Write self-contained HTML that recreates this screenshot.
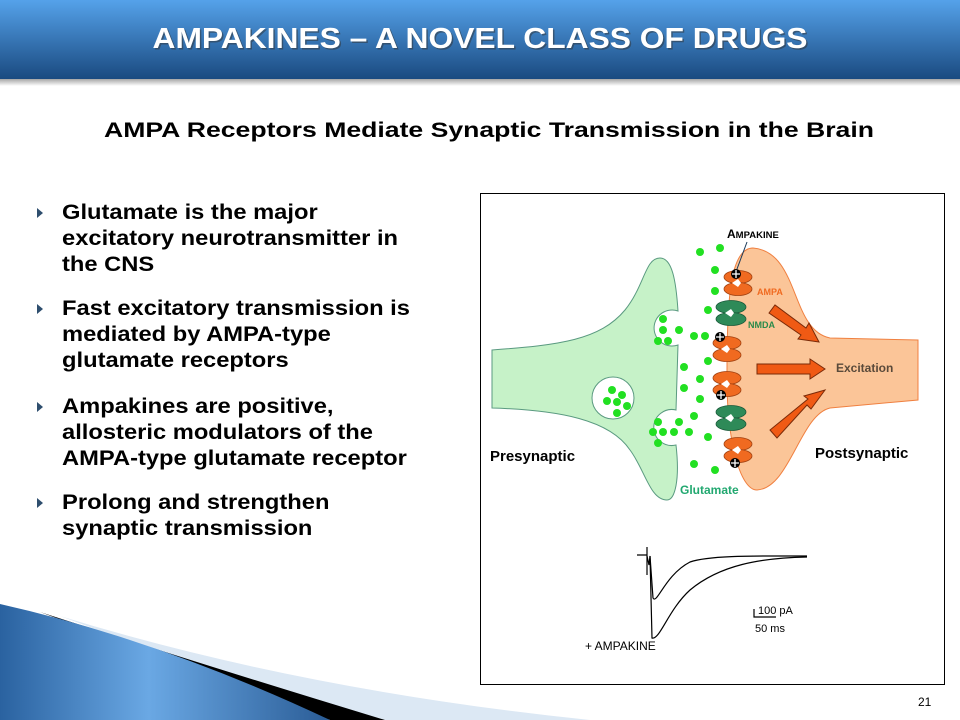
<!DOCTYPE html>
<html><head><meta charset="utf-8"><style>
html,body{margin:0;padding:0;background:#fff;}
body{width:960px;height:720px;overflow:hidden;position:relative;font-family:"Liberation Sans",Arial,sans-serif;}
</style></head><body>
<svg width="960" height="720" viewBox="0 0 960 720" xmlns="http://www.w3.org/2000/svg" style="position:absolute;left:0;top:0;font-family:'Liberation Sans',Arial,sans-serif">
<defs>
<linearGradient id="tb" x1="0" y1="0" x2="0" y2="1"><stop offset="0" stop-color="#55a2ea"/><stop offset="1" stop-color="#1a4a80"/></linearGradient>
<linearGradient id="sh" x1="0" y1="0" x2="0" y2="1"><stop offset="0" stop-color="#999"/><stop offset="1" stop-color="#fff"/></linearGradient>
<linearGradient id="sw" x1="0" y1="0" x2="1" y2="0"><stop offset="0" stop-color="#2a62a0"/><stop offset="0.45" stop-color="#6aa8e4"/><stop offset="1" stop-color="#2a5c96"/></linearGradient>
</defs>
<rect x="0" y="78" width="960" height="8" fill="url(#sh)"/>
<rect x="0" y="0" width="960" height="79" fill="url(#tb)"/>
<text x="480" y="48" text-anchor="middle" font-size="29" font-weight="bold" fill="#333" opacity="0.5" transform="translate(1.5,1.5)" textLength="655" lengthAdjust="spacingAndGlyphs">AMPAKINES – A NOVEL CLASS OF DRUGS</text>
<text x="480" y="48" text-anchor="middle" font-size="29" font-weight="bold" fill="#fff" textLength="655" lengthAdjust="spacingAndGlyphs">AMPAKINES – A NOVEL CLASS OF DRUGS</text>
<text x="489" y="137" text-anchor="middle" font-size="21" font-weight="bold" fill="#000" textLength="770" lengthAdjust="spacingAndGlyphs">AMPA Receptors Mediate Synaptic Transmission in the Brain</text>
<g fill="#2e4e6e"><path d="M37,208 l6,5 -6,5z"/><path d="M37,304 l6,5 -6,5z"/><path d="M37,402 l6,5 -6,5z"/><path d="M37,498 l6,5 -6,5z"/></g>
<g font-size="21" font-weight="bold" fill="#000" transform="scale(1.13,1)">
<text x="54.9" y="219">Glutamate is the major</text>
<text x="54.9" y="245">excitatory neurotransmitter in</text>
<text x="54.9" y="271">the CNS</text>
<text x="54.9" y="315">Fast excitatory transmission is</text>
<text x="54.9" y="341">mediated by AMPA-type</text>
<text x="54.9" y="367">glutamate receptors</text>
<text x="54.9" y="413">Ampakines are positive,</text>
<text x="54.9" y="439">allosteric modulators of the</text>
<text x="54.9" y="465">AMPA-type glutamate receptor</text>
<text x="54.9" y="509">Prolong and strengthen</text>
<text x="54.9" y="535">synaptic transmission</text>
</g>
<path d="M60,616 Q300,690 590,720 L330,720 Q180,660 60,616Z" fill="#dce8f4"/>
<path d="M40,612 Q220,670 385,720 L330,720 Q170,660 40,612Z" fill="#000"/>
<path d="M0,604 Q160,640 330,720 L0,720Z" fill="url(#sw)"/>
<rect x="480.5" y="193.5" width="464" height="491" fill="#fff" stroke="#000" stroke-width="1"/>
<path d="M753,248 C800,252 790,330 830,338 L918,340 L918,400 L830,408 C800,415 790,488 757,490 C740,490 726,440 727,370 C727,300 730,248 753,248Z" fill="#fbc598" stroke="#f08040" stroke-width="1"/>
<path d="M492,350 C560,345 600,340 625,310 C645,285 645,258 660,258 C672,258 676,280 678,311 A18,18 0 1 0 678,345 L676,410 A18,18 0 1 0 676,445 C680,480 675,500 667,500 C650,500 645,470 630,450 C610,420 560,410 492,408Z" fill="#c6f2c8" stroke="#5a9a80" stroke-width="1"/>
<circle cx="613" cy="398" r="21" fill="#fff" stroke="#5a9a80"/>
<g fill="#22e022">
<circle cx="700" cy="252" r="4"/><circle cx="720" cy="248" r="4"/><circle cx="715" cy="270" r="4"/><circle cx="715" cy="291" r="4"/><circle cx="708" cy="310" r="4"/><circle cx="663" cy="319" r="4"/><circle cx="663" cy="330" r="4"/><circle cx="679" cy="330" r="4"/><circle cx="658" cy="341" r="4"/><circle cx="668" cy="341" r="4"/><circle cx="694" cy="336" r="4"/><circle cx="705" cy="336" r="4"/><circle cx="708" cy="361" r="4"/><circle cx="684" cy="367" r="4"/><circle cx="700" cy="379" r="4"/><circle cx="684" cy="388" r="4"/><circle cx="700" cy="399" r="4"/><circle cx="694" cy="416" r="4"/><circle cx="708" cy="437" r="4"/><circle cx="658" cy="422" r="4"/><circle cx="679" cy="422" r="4"/><circle cx="653" cy="432" r="4"/><circle cx="663" cy="432" r="4"/><circle cx="674" cy="432" r="4"/><circle cx="689" cy="432" r="4"/><circle cx="658" cy="443" r="4"/><circle cx="694" cy="464" r="4"/><circle cx="715" cy="470" r="4"/>
<circle cx="612" cy="390" r="4"/><circle cx="622" cy="395" r="4"/><circle cx="607" cy="401" r="4"/><circle cx="617" cy="402" r="4"/><circle cx="627" cy="406" r="4"/><circle cx="617" cy="413" r="4"/>
</g>
<g stroke="#a04010" stroke-width="0.8" fill="#f06a20">
<g transform="translate(738,283)"><ellipse cx="0" cy="-6" rx="14" ry="6.5"/><ellipse cx="0" cy="6" rx="14" ry="6.5"/><path d="M-6,0 l6,-4 3,4 -3,4z" fill="#fff" stroke="none"/></g>
<g transform="translate(727,349)"><ellipse cx="0" cy="-6" rx="14" ry="6.5"/><ellipse cx="0" cy="6" rx="14" ry="6.5"/><path d="M-6,0 l6,-4 3,4 -3,4z" fill="#fff" stroke="none"/></g>
<g transform="translate(727,384)"><ellipse cx="0" cy="-6" rx="14" ry="6.5"/><ellipse cx="0" cy="6" rx="14" ry="6.5"/><path d="M-6,0 l6,-4 3,4 -3,4z" fill="#fff" stroke="none"/></g>
<g transform="translate(738,450)"><ellipse cx="0" cy="-6" rx="14" ry="6.5"/><ellipse cx="0" cy="6" rx="14" ry="6.5"/><path d="M-6,0 l6,-4 3,4 -3,4z" fill="#fff" stroke="none"/></g>
</g>
<g stroke="#1a5a3a" stroke-width="0.8" fill="#2e8a58">
<g transform="translate(731,313)"><ellipse cx="0" cy="-6" rx="15" ry="6.5"/><ellipse cx="0" cy="6" rx="15" ry="6.5"/><path d="M-6,0 l6,-4 3,4 -3,4z" fill="#fff" stroke="none"/></g>
<g transform="translate(731,418)"><ellipse cx="0" cy="-6" rx="15" ry="6.5"/><ellipse cx="0" cy="6" rx="15" ry="6.5"/><path d="M-6,0 l6,-4 3,4 -3,4z" fill="#fff" stroke="none"/></g>
</g>
<g>
<g transform="translate(736,274)"><circle r="5" fill="#000"/><path d="M-4,0h8M0,-4v8" stroke="#fff" stroke-width="1.3"/></g>
<g transform="translate(720,337)"><circle r="5" fill="#000"/><path d="M-4,0h8M0,-4v8" stroke="#fff" stroke-width="1.3"/></g>
<g transform="translate(721,395)"><circle r="5" fill="#000"/><path d="M-4,0h8M0,-4v8" stroke="#fff" stroke-width="1.3"/></g>
<g transform="translate(735,463)"><circle r="5" fill="#000"/><path d="M-4,0h8M0,-4v8" stroke="#fff" stroke-width="1.3"/></g>
</g>
<path d="M747,242 L737,269" stroke="#1a3a5a" stroke-width="1" fill="none"/>
<g fill="#f05a14" stroke="#7a2a08" stroke-width="1">
<path d="M769,313 L775,305 L806,328 L809,323 L819,342 L798,339 L801,335Z"/>
<path d="M757,364 L810,364 L810,359 L825,369 L810,379 L810,374 L757,374Z"/>
<path d="M770,430 L777,438 L807,405 L811,409 L825,390 L804,396 L808,399Z"/>
</g>
<text x="727" y="238" font-size="12" font-weight="bold" fill="#000">A<tspan font-size="9.5">MPAKINE</tspan></text>
<text x="757" y="295" font-size="9" font-weight="bold" fill="#f06a20">AMPA</text>
<text x="748" y="328" font-size="9" font-weight="bold" fill="#2a8a4a">NMDA</text>
<text x="836" y="372" font-size="12" font-weight="bold" fill="#5a4a3a">Excitation</text>
<text x="490" y="461" font-size="15" font-weight="bold" fill="#000">Presynaptic</text>
<text x="815" y="458" font-size="15" font-weight="bold" fill="#000">Postsynaptic</text>
<text x="680" y="494" font-size="12" font-weight="bold" fill="#22a870">Glutamate</text>
<g fill="none" stroke="#000" stroke-width="1.2">
<path d="M637,555 L647,555 M647,547 L647,575"/>
<path d="M647,556 L649,565 L650,556 L653,598 C657,605 665,575 690,562 C710,555 760,556 807,556"/>
<path d="M650,556 L652,638 C660,640 668,610 690,590 C720,565 760,558 807,557"/>
<path d="M754,609 L754,617 L776,617"/>
</g>
<text x="758" y="614" font-size="11" fill="#000">100 pA</text>
<text x="755" y="632" font-size="11" fill="#000">50 ms</text>
<text x="585" y="650" font-size="12" fill="#000">+ AMPAKINE</text>
<text x="918" y="706" font-size="12" fill="#000">21</text>
</svg>
</body></html>
